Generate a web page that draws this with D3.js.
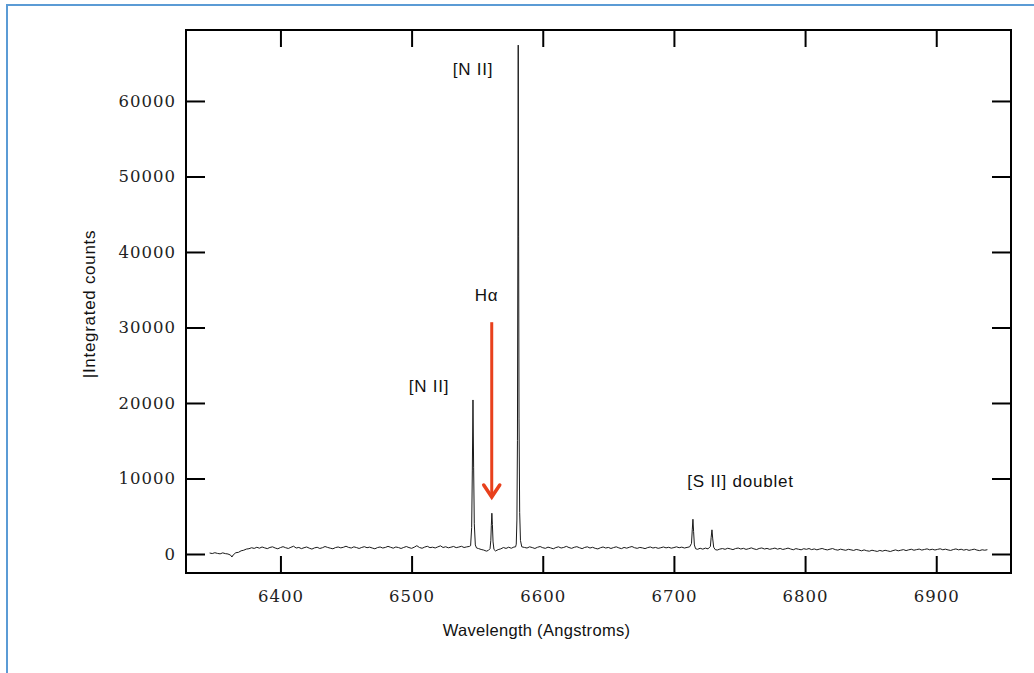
<!DOCTYPE html>
<html>
<head>
<meta charset="utf-8">
<script src="https://cdn.jsdelivr.net/npm/d3@7"></script>
<style>
  body { margin: 0; background: #fff; }
  svg { display: block; }
  .tick text { font-family: "DejaVu Serif", serif; font-size: 16.5px; letter-spacing: 1px; fill: #222; }
  .tick line { stroke: #000; stroke-width: 2; }
  .lbl { font-family: "Liberation Sans", Arial, sans-serif; font-size: 17px; letter-spacing: 0.8px; fill: #111; }
</style>
</head>
<body>
<div id="chart"></div>
<script>
// tick values
var xTicks = [6400, 6500, 6600, 6700, 6800, 6900];
var yTicks = [0, 10000, 20000, 30000, 40000, 50000, 60000];

// spectrum: [wavelength (A), integrated counts]
var spectrum = [
  [6346,130],[6348,60],[6350,170],[6352,80],[6354,20],[6356,150],[6358,50],[6360,0],[6362,-150],[6363,-400],
  [6364,-120],[6366,170],[6368,220],[6370,420],[6372,500],[6374,650],[6376,700],[6378,830],[6380,740],
  [6382,890],[6384,770],[6386,930],[6388,810],[6390,710],[6392,870],[6394,950],[6396,790],[6398,690],[6400,850],
  [6402,970],[6404,830],[6406,730],[6408,890],[6410,1030],[6412,790],[6414,870],[6416,710],[6418,830],[6420,930],
  [6422,770],[6424,650],[6426,810],[6428,890],[6430,730],[6432,830],[6434,990],[6436,870],[6438,770],[6440,690],
  [6442,850],[6444,930],[6446,810],[6448,890],[6450,1030],[6452,870],[6454,790],[6456,950],[6458,850],[6460,730],
  [6462,870],[6464,970],[6466,830],[6468,910],[6470,790],[6472,690],[6474,850],[6476,930],[6478,790],[6480,870],
  [6482,1010],[6484,890],[6486,770],[6488,930],[6490,850],[6492,730],[6494,870],[6496,990],[6498,850],[6500,750],
  [6502,900],[6504,1100],[6506,860],[6508,760],[6510,920],[6512,1020],[6514,840],[6516,900],[6518,800],[6520,940],
  [6522,1080],[6524,860],[6526,960],[6528,820],[6530,900],[6532,1000],[6534,840],[6536,920],[6538,1020],[6540,860],
  [6542,940],[6544,1000],
  [6545,1100],[6545.8,3500],[6546.3,11000],[6546.8,20400],[6547.3,11500],[6547.8,4000],[6548.6,1200],[6549.5,800],
  [6551,720],[6553,600],[6555,520],[6557,380],[6558.5,470],[6559.8,700],
  [6560.4,1800],[6560.8,3800],[6561.2,5400],[6561.6,3900],[6562.1,1600],[6562.8,600],[6564,400],[6566,580],
  [6568,680],[6570,860],[6572,740],[6574,900],[6576,760],[6578,920],[6579.3,950],
  [6579.8,1300],[6580.3,4500],[6580.7,15000],[6581.0,40000],[6581.3,67400],[6581.6,42000],[6581.9,18000],
  [6582.4,5500],[6583,1800],[6584,950],
  [6586,870],[6588,790],[6590,950],[6592,850],[6594,730],[6596,890],[6598,990],[6600,830],[6602,750],[6604,910],
  [6606,810],[6608,690],[6610,850],[6612,950],[6614,790],[6616,870],[6618,1010],[6620,850],[6622,750],[6624,890],
  [6626,970],[6628,830],[6630,710],[6632,870],[6634,950],[6636,790],[6638,890],[6640,750],[6642,670],[6644,830],
  [6646,930],[6648,790],[6650,870],[6652,730],[6654,850],[6656,950],[6658,810],[6660,710],[6662,870],[6664,770],
  [6666,890],[6668,990],[6670,830],[6672,750],[6674,870],[6676,810],[6678,710],[6680,850],[6682,930],[6684,790],
  [6686,870],[6688,750],[6690,830],[6692,930],[6694,810],[6696,890],[6698,770],[6700,850],[6702,950],[6704,830],
  [6706,910],[6708,790],[6710,870],[6712,950],
  [6713.4,1400],[6714,3200],[6714.5,4600],[6715,3000],[6715.6,1200],[6716.5,700],[6718,620],[6720,760],
  [6722,640],[6724,780],[6726,680],[6727.8,1000],
  [6728.4,2200],[6729,3200],[6729.6,2000],[6730.3,900],[6731.5,580],[6733,520],[6735,650],
  [6737,720],[6739,620],[6741,760],[6743,680],[6745,580],[6747,720],[6749,790],[6751,660],[6753,750],[6755,610],
  [6757,700],[6759,810],[6761,680],[6763,590],[6765,730],[6767,800],[6769,660],[6771,740],[6773,620],[6775,700],
  [6777,780],[6779,640],[6781,740],[6783,600],[6785,680],[6787,780],[6789,660],[6791,560],[6793,710],[6795,630],
  [6797,560],[6799,700],[6801,620],[6803,720],[6805,580],[6807,670],[6809,550],[6811,650],[6813,730],[6815,610],
  [6817,540],[6819,640],[6821,720],[6823,580],[6825,510],[6827,640],[6829,560],[6831,490],[6833,620],[6835,550],
  [6837,470],[6839,600],[6841,530],[6843,420],[6845,540],[6847,430],[6849,370],[6851,500],[6853,420],[6855,340],
  [6857,470],[6859,380],[6861,490],[6863,410],[6865,330],[6867,450],[6869,540],[6871,420],[6873,500],[6875,580],
  [6877,450],[6879,550],[6881,630],[6883,500],[6885,580],[6887,650],[6889,520],[6891,600],[6893,680],[6895,550],
  [6897,630],[6899,530],[6901,610],[6903,690],[6905,560],[6907,640],[6909,540],[6911,470],[6913,590],[6915,670],
  [6917,550],[6919,630],[6921,510],[6923,600],[6925,480],[6927,560],[6929,640],[6931,520],[6933,450],[6935,560],
  [6937,500],[6939,570]
];

// line labels, placed in data coordinates
var labels = [
  {text: "[N II]", wave: 6546.8, count: 63500},
  {text: "Hα", wave: 6557.1, count: 33500},
  {text: "[N II]", wave: 6513.3, count: 21450},
  {text: "[S II] doublet", wave: 6750.8, count: 8870}
];
var arrow = {wave: 6561.1, from: 30700, to: 7550};

var W = 1034, H = 673;
var svg = d3.select("#chart").append("svg")
    .attr("width", W)
    .attr("height", H);

// blue frame of the slide
svg.append("path")
    .attr("d", "M7," + H + "V5H" + W)
    .attr("fill", "none")
    .attr("stroke", "#5b9bd5")
    .attr("stroke-width", 2);

var plotL = 186, plotR = 1011, plotT = 30, plotB = 573;

var x = d3.scaleLinear().domain([6328, 6957]).range([plotL, plotR]);
var y = d3.scaleLinear().domain([-2517, 69400]).range([plotB, plotT]);

svg.append("g")
    .attr("transform", "translate(0," + plotB + ")")
    .call(d3.axisBottom(x).tickValues(xTicks).tickSize(-17).tickPadding(17).tickFormat(d3.format("d")))
    .call(function(g) { g.select(".domain").remove(); });

svg.append("g")
    .attr("transform", "translate(0," + plotT + ")")
    .call(d3.axisTop(x).tickValues(xTicks).tickSize(-17).tickFormat(""))
    .call(function(g) { g.select(".domain").remove(); });

svg.append("g")
    .attr("transform", "translate(" + plotL + ",0)")
    .call(d3.axisLeft(y).tickValues(yTicks).tickSize(-19).tickPadding(10).tickFormat(d3.format("d")))
    .call(function(g) { g.select(".domain").remove(); });

svg.append("g")
    .attr("transform", "translate(" + plotR + ",0)")
    .call(d3.axisRight(y).tickValues(yTicks).tickSize(-19).tickFormat(""))
    .call(function(g) { g.select(".domain").remove(); });

svg.append("rect")
    .attr("x", plotL).attr("y", plotT)
    .attr("width", plotR - plotL).attr("height", plotB - plotT)
    .attr("fill", "none")
    .attr("stroke", "#000")
    .attr("stroke-width", 2);

var line = d3.line()
    .x(function(d) { return x(d[0]); })
    .y(function(d) { return y(d[1]); });

svg.append("path")
    .datum(spectrum)
    .attr("d", line)
    .attr("fill", "none")
    .attr("stroke", "#1a1a1a")
    .attr("stroke-width", 1);

svg.selectAll("text.ann")
    .data(labels)
    .enter()
    .append("text")
    .attr("class", "lbl ann")
    .attr("x", function(d) { return x(d.wave); })
    .attr("y", function(d) { return y(d.count); })
    .attr("text-anchor", "middle")
    .text(function(d) { return d.text; });

// red arrow to H-alpha
var ax = x(arrow.wave), ay1 = y(arrow.from), ay2 = y(arrow.to);
svg.append("line")
    .attr("x1", ax).attr("y1", ay1)
    .attr("x2", ax).attr("y2", ay2 - 2)
    .attr("stroke", "#e8401c")
    .attr("stroke-width", 3);
svg.append("path")
    .attr("d", "M" + (ax - 8) + "," + (ay2 - 12) + "L" + ax + "," + ay2 + "L" + (ax + 8) + "," + (ay2 - 12))
    .attr("fill", "none")
    .attr("stroke", "#e8401c")
    .attr("stroke-width", 3.5)
    .attr("stroke-linecap", "round");

// axis titles
svg.append("text")
    .attr("class", "lbl")
    .attr("x", (plotL + plotR) / 2 - 62)
    .attr("y", 636)
    .attr("text-anchor", "middle")
    .style("font-size", "16.5px")
    .style("letter-spacing", "0.3px")
    .text("Wavelength (Angstroms)");

svg.append("text")
    .attr("class", "lbl")
    .attr("transform", "translate(95,304) rotate(-90)")
    .attr("text-anchor", "middle")
    .style("letter-spacing", "0.7px")
    .text("|Integrated counts");
</script>
</body>
</html>
